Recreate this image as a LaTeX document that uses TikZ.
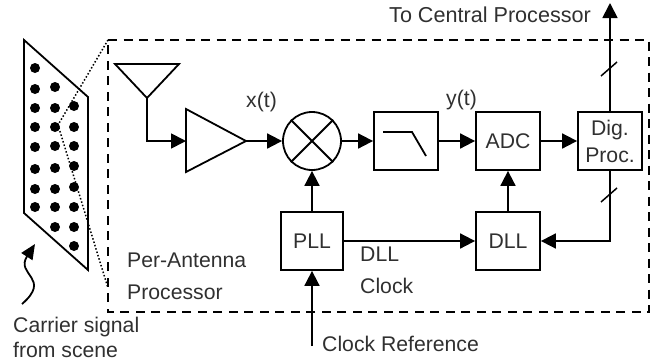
\documentclass[tikz,border=0pt]{standalone}
\usepackage{fontspec}
\setmainfont{Liberation Sans}
\usetikzlibrary{arrows.meta}
\definecolor{txt}{HTML}{303030}
\tikzset{
  wire/.style={line width=1.8pt,black},
  arr/.style={wire,-{Triangle[length=15pt,width=15pt]}},
  blockbox/.style={draw=black,line width=1.8pt,inner sep=0pt,minimum width=64pt,minimum height=58pt,text=txt,font=\fontsize{21.2}{27}\selectfont,align=center},
  lab/.style={inner sep=0pt,text=txt,font=\fontsize{21.2}{24}\selectfont,anchor=base west},
  bound/.style={black,line width=1.8pt,dash pattern=on 9pt off 6.5pt},
  sight/.style={black,line width=1.5pt,dotted},
  arraydot/.style={circle,fill=black,inner sep=0pt,minimum size=10pt}
}
\begin{document}
\begin{tikzpicture}[x=1pt,y=-1pt]
\useasboundingbox (0,0) rectangle (654,362);
% array panel
\draw[wire] (24,40) -- (88,97) -- (88,270) -- (24,213) -- cycle;
\foreach \y in {68,89,108,127,147,169,189,207} \node[arraydot] at (35,\y) {};
\foreach \y in {87,108,127,146,168,189,207,227} \node[arraydot] at (55,\y) {};
\foreach \y in {106,127,146,166,187,207,227,246} \node[arraydot] at (74,\y) {};
% per-antenna boundary
\draw[bound] (108,40) -- (649,40) -- (649,312) -- (108,312) -- cycle;
\coordinate (ztop) at (108,40);
\coordinate (zapex) at (58,125);
\coordinate (zbot) at (108,288);
\draw[sight] (ztop) -- (zapex) -- (zbot);
% blocks
\coordinate (anttip) at (147,98);
\draw[wire,line join=miter] (115,64) -- (179,64) -- (anttip) -- cycle;
\coordinate (ampin) at (186,141);
\coordinate (ampout) at (246,141);
\draw[wire] (186,109) -- (186,172) -- (ampout) -- cycle;
\node[draw=black,line width=1.8pt,circle,minimum size=58pt,inner sep=0pt] (mix) at (312,141) {};
\draw[wire] (mix.45) -- (mix.225) (mix.135) -- (mix.315);
\node[blockbox] (lpf) at (406,141) {};
\draw[wire] (383,132) -- (412,132) -- (426,156);
\node[blockbox] (adc) at (508,141) {\raisebox{-2pt}{ADC}};
\node[blockbox] (dig) at (610,141) {Dig.\\[0pt]Proc.};
\node[blockbox] (dll) at (508,241) {DLL};
\node[blockbox,minimum width=62pt] (pll) at (312,241) {PLL};
% connectors
\coordinate (up) at (610,3);
\coordinate (ck) at (312,346);
\coordinate (corner) at (147,141);
\coordinate (dcorner) at (610,241);
\draw[arr] (anttip) -- (corner) -- (ampin);
\draw[arr] (ampout) -- (mix);
\draw[arr] (mix) -- (lpf);
\draw[arr] (lpf) -- (adc);
\draw[arr] (adc) -- (dig);
\draw[arr] (dig) -- (up);
\draw[arr] (dig) -- (dcorner) -- (dll);
\draw[arr] (dll) -- (adc);
\draw[arr] (pll) -- (mix);
\draw[arr] (pll) -- (dll);
\draw[arr] (ck) -- (pll);
% bus slashes
\draw[wire,line width=1.5pt] (601,76) -- (617,62);
\draw[wire,line width=1.5pt] (601,202) -- (617,188);
% carrier arrow
\coordinate (cs) at (22,304);
\coordinate (ce) at (35,244);
\draw[arr,-{Triangle[length=15pt,width=13pt]}] (cs) .. controls (52,278) and (15,275) .. (ce);
% labels
\node[lab] (lx) at (246,107) {x(t)};
\node[lab] (ly) at (446,105) {y(t)};
\node[lab] (lt) at (389,22) {\fontsize{21.6}{24}\selectfont To Central Processor};
\node[lab] (lp1) at (127,267) {Per-Antenna};
\node[lab] (lp2) at (127,299) {Processor};
\node[lab] (lc1) at (13,332) {Carrier signal};
\node[lab] (lc2) at (13,357) {from scene};
\node[lab] (lr) at (322,351) {Clock Reference};
\node[lab] (ld1) at (360,261) {DLL};
\node[lab] (ld2) at (360,293) {Clock};
\end{tikzpicture}
\end{document}
